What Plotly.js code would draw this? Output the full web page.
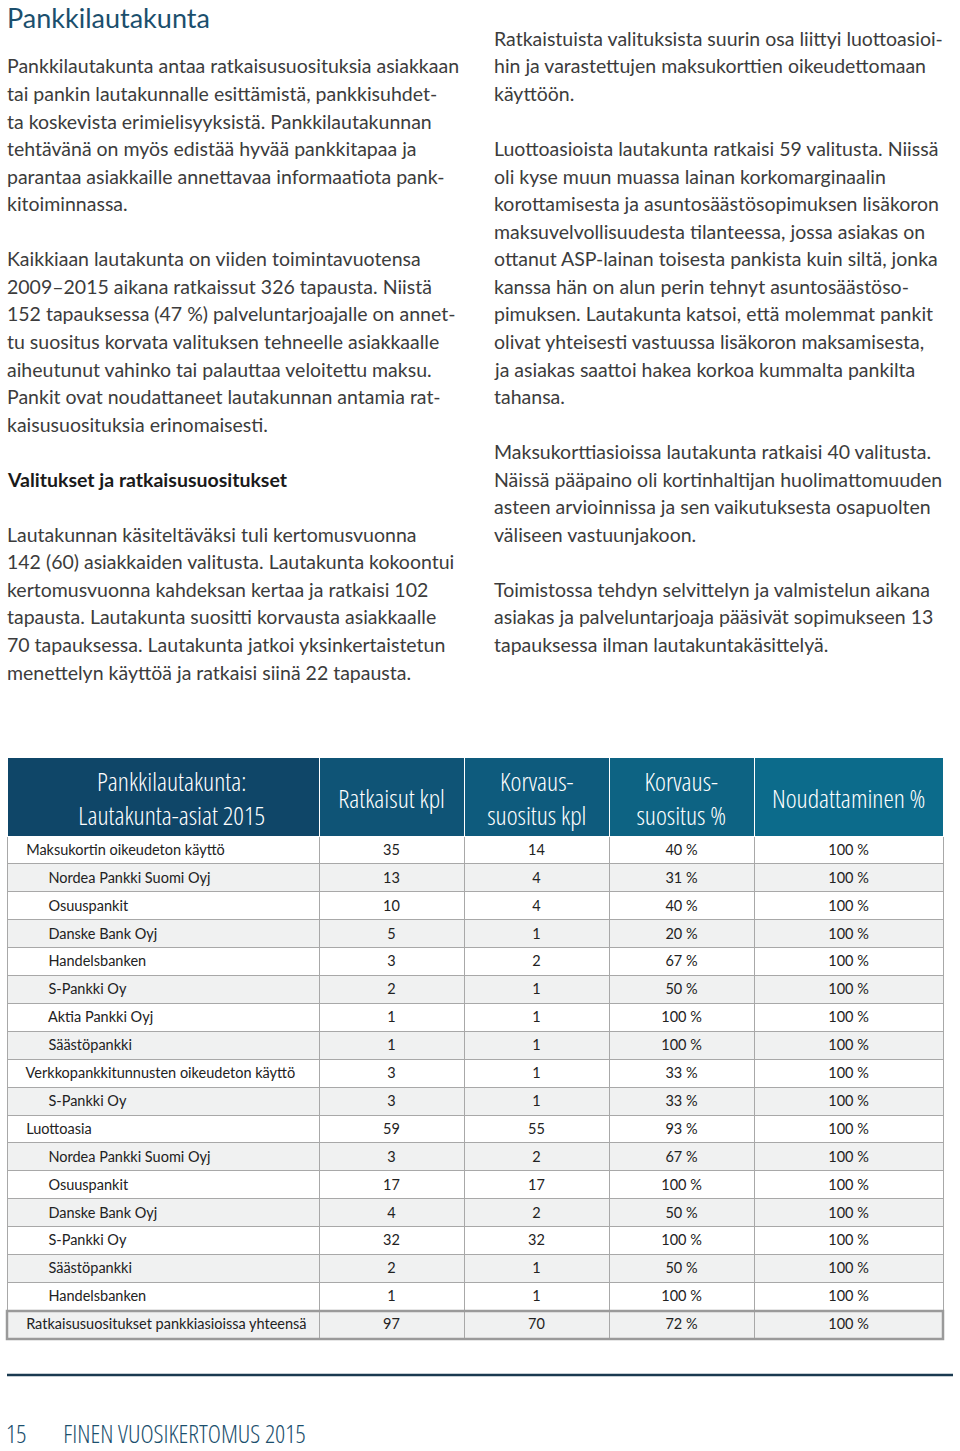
<!DOCTYPE html>
<html>
<head>
<meta charset="utf-8">
<script src="https://cdn.plot.ly/plotly-3.0.1.min.js"></script>
<style>
html,body{margin:0;padding:0;background:#fff;}
#chart{width:960px;height:1451px;}
</style>
</head>
<body>
<div id="chart"></div>
<script>
// ---- Table data ----
var headers = ["Pankkilautakunta:<br>Lautakunta-asiat 2015", "Ratkaisut kpl", "Korvaus-<br>suositus kpl", "Korvaus-<br>suositus %", "Noudattaminen %"];
var categories = ["Maksukortin oikeudeton käyttö", "Nordea Pankki Suomi Oyj", "Osuuspankit", "Danske Bank Oyj", "Handelsbanken", "S-Pankki Oy", "Aktia Pankki Oyj", "Säästöpankki", "Verkkopankkitunnusten oikeudeton käyttö", "S-Pankki Oy", "Luottoasia", "Nordea Pankki Suomi Oyj", "Osuuspankit", "Danske Bank Oyj", "S-Pankki Oy", "Säästöpankki", "Handelsbanken", "Ratkaisusuositukset pankkiasioissa yhteensä"];
var levels = [0,1,1,1,1,1,1,1,0,1,0,1,1,1,1,1,1,0];
var ratkaisut = [35,13,10,5,3,2,1,1,3,3,59,3,17,4,32,2,1,97];
var korvausKpl = [14,4,4,1,2,1,1,1,1,1,55,2,17,2,32,1,1,70];
var korvausPct = [40,31,40,20,67,50,100,100,33,33,93,67,100,50,100,50,100,72];
var noudattaminen = [100,100,100,100,100,100,100,100,100,100,100,100,100,100,100,100,100,100];

// ---- Page text ----
var pageTitle = "Pankkilautakunta";
var leftLines = [
 "Pankkilautakunta antaa ratkaisusuosituksia asiakkaan",
 "tai pankin lautakunnalle esittämistä, pankkisuhdet-",
 "ta koskevista erimielisyyksistä. Pankkilautakunnan",
 "tehtävänä on myös edistää hyvää pankkitapaa ja",
 "parantaa asiakkaille annettavaa informaatiota pank-",
 "kitoiminnassa.",
 "",
 "Kaikkiaan lautakunta on viiden toimintavuotensa",
 "2009–2015 aikana ratkaissut 326 tapausta. Niistä",
 "152 tapauksessa (47 %) palveluntarjoajalle on annet-",
 "tu suositus korvata valituksen tehneelle asiakkaalle",
 "aiheutunut vahinko tai palauttaa veloitettu maksu.",
 "Pankit ovat noudattaneet lautakunnan antamia rat-",
 "kaisusuosituksia erinomaisesti.",
 "",
 "<b>Valitukset ja ratkaisusuositukset</b>",
 "",
 "Lautakunnan käsiteltäväksi tuli kertomusvuonna",
 "142 (60) asiakkaiden valitusta. Lautakunta kokoontui",
 "kertomusvuonna kahdeksan kertaa ja ratkaisi 102",
 "tapausta. Lautakunta suositti korvausta asiakkaalle",
 "70 tapauksessa. Lautakunta jatkoi yksinkertaistetun",
 "menettelyn käyttöä ja ratkaisi siinä 22 tapausta."
];
var rightLines = [
 "Ratkaistuista valituksista suurin osa liittyi luottoasioi-",
 "hin ja varastettujen maksukorttien oikeudettomaan",
 "käyttöön.",
 "",
 "Luottoasioista lautakunta ratkaisi 59 valitusta. Niissä",
 "oli kyse muun muassa lainan korkomarginaalin",
 "korottamisesta ja asuntosäästösopimuksen lisäkoron",
 "maksuvelvollisuudesta tilanteessa, jossa asiakas on",
 "ottanut ASP-lainan toisesta pankista kuin siltä, jonka",
 "kanssa hän on alun perin tehnyt asuntosäästöso-",
 "pimuksen. Lautakunta katsoi, että molemmat pankit",
 "olivat yhteisesti vastuussa lisäkoron maksamisesta,",
 "ja asiakas saattoi hakea korkoa kummalta pankilta",
 "tahansa.",
 "",
 "Maksukorttiasioissa lautakunta ratkaisi 40 valitusta.",
 "Näissä pääpaino oli kortinhaltijan huolimattomuuden",
 "asteen arvioinnissa ja sen vaikutuksesta osapuolten",
 "väliseen vastuunjakoon.",
 "",
 "Toimistossa tehdyn selvittelyn ja valmistelun aikana",
 "asiakas ja palveluntarjoaja pääsivät sopimukseen 13",
 "tapauksessa ilman lautakuntakäsittelyä."
];
var footerPage = "15";
var footerText = "FINEN VUOSIKERTOMUS 2015";

// ---- Layout helpers ----
var W = 960, H = 1451;
function px(x){ return x / W; }
function py(y){ return 1 - y / H; }

var bodyFont = "Lato, sans-serif";
var condFont = "'Open Sans', sans-serif";
var textColor = "#3c3c3c";
var navy = '#1b4f6d';

var annotations = [];
function addLines(lines, x0, startIdx){
  lines.forEach(function(t, i){
    if (!t) return;
    annotations.push({
      xref:'paper', yref:'paper', x: px(x0), y: py(66 + 27.55*(i+startIdx)),
      xanchor:'left', yanchor:'middle', showarrow:false, align:'left',
      text: t, font:{family: bodyFont, size: 19.5, color: t.indexOf('<b>')===0 ? '#1a1a1a' : textColor}
    });
  });
}
addLines(leftLines, 5, 0);
addLines(rightLines, 492, -1);
annotations.push({xref:'paper', yref:'paper', x: px(5), y: py(17), xanchor:'left', yanchor:'middle', showarrow:false,
  text: pageTitle, font:{family: bodyFont, size: 27, color: navy}});
// condensed texts are centred so that narrowing keeps them in place
annotations.push({xref:'paper', yref:'paper', x: px(16), y: py(1433), xanchor:'center', yanchor:'middle', showarrow:false,
  text: footerPage, font:{family: condFont, size: 25, color: navy, weight: 300}});
annotations.push({xref:'paper', yref:'paper', x: px(184), y: py(1433), xanchor:'center', yanchor:'middle', showarrow:false,
  text: footerText, font:{family: condFont, size: 25, color: navy, weight: 300}});

// header labels placed over the table header cells
var colWidths = [312, 145, 145, 145, 189];
var headerShift = [8, 0, 0, 0, 0];
var tableLeft = 7, tableRight = 943;
var left = tableLeft;
headers.forEach(function(t, c){
  var cx = left + colWidths[c] / 2 + headerShift[c];
  left += colWidths[c];
  annotations.push({xref:'paper', yref:'paper', x: px(cx), y: py(798), xanchor:'center', yanchor:'middle',
    align:'center', showarrow:false, text: t, font:{family: condFont, size: 26, color:'#ffffff', weight: 300}});
});

var nb = "\u00a0";
function indent(n){ var s=""; for (var i=0;i<n;i++) s+=nb; return s; }
var col0 = categories.map(function(c, i){ return indent(levels[i] ? 9 : 3) + c; });
var rowFill = categories.map(function(c, i){ return i % 2 ? '#f0f1f1' : '#ffffff'; });

var trace = {
  type: 'table',
  domain: {x:[px(tableLeft), px(tableRight)], y:[py(1345), py(757)]},
  columnwidth: colWidths,
  header: {
    values: headers.map(function(){ return ""; }),
    align: 'center',
    height: 79,
    fill: {color: ['#0f4668', '#0f5476', '#0e5b7d', '#0d6383', '#0c6b8b']},
    line: {color: '#ffffff', width: 1},
    font: {family: condFont, size: 26, color: '#ffffff'}
  },
  cells: {
    values: [col0, ratkaisut, korvausKpl,
      korvausPct.map(function(v){ return v + ' %'; }),
      noudattaminen.map(function(v){ return v + ' %'; })],
    align: ['left', 'center', 'center', 'center', 'center'],
    height: 27.9,
    fill: {color: [rowFill, rowFill, rowFill, rowFill, rowFill]},
    line: {color: '#a8a8a8', width: 1},
    font: {family: bodyFont, size: 14.5, color: '#222222'}
  }
};

var layout = {
  width: W, height: H,
  margin: {l:0, r:0, t:0, b:0},
  paper_bgcolor: '#ffffff',
  showlegend: false,
  annotations: annotations,
  shapes: [
    {type:'line', xref:'paper', yref:'paper', x0: px(7), x1: px(953), y0: py(1375), y1: py(1375),
     line:{color:'#1a3a50', width:2.5}},
    {type:'rect', xref:'paper', yref:'paper', x0: px(7), x1: px(943), y0: py(1311), y1: py(1339),
     line:{color:'#9a9a9a', width:2.5}, fillcolor:'rgba(0,0,0,0)'}
  ]
};

Plotly.newPlot('chart', [trace], layout, {displayModeBar:false, staticPlot:true}).then(function(gd){
  gd.querySelectorAll('text').forEach(function(t){
    var ff = t.style.fontFamily || '';
    if (ff.indexOf('Open Sans') >= 0) {
      t.style.fontStretch = 'condensed';
    }
  });
});
</script>
</body>
</html>
